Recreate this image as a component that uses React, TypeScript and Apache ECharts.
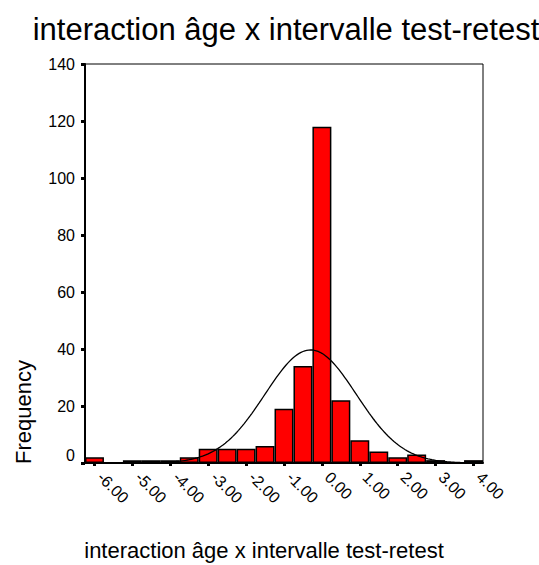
import React, { useEffect, useRef } from "react";
import * as echarts from "echarts";

const TITLE = "interaction âge x intervalle test-retest";
const X_NAME = "interaction âge x intervalle test-retest";
const Y_NAME = "Frequency";
const BIN_CENTERS = [-6, -5.5, -5, -4.5, -4, -3.5, -3, -2.5, -2, -1.5, -1, -0.5, 0, 0.5, 1, 1.5, 2, 2.5, 3, 3.5, 4];
const COUNTS = [2, 0, 1, 1, 1, 2, 5, 5, 5, 6, 19, 34, 118, 22, 8, 4, 2, 3, 1, 0, 1];
const BIN_WIDTH = 0.5;
const Y_MIN = 0;
const Y_MAX = 140;
const Y_STEP = 20;

function normalCurve(): number[][] {
  const n = COUNTS.reduce((a, b) => a + b, 0);
  const mean = BIN_CENTERS.reduce((s, x, i) => s + x * COUNTS[i], 0) / n;
  const varc = BIN_CENTERS.reduce((s, x, i) => s + (x - mean) * (x - mean) * COUNTS[i], 0) / (n - 1);
  const sd = Math.sqrt(varc);
  const lo = BIN_CENTERS[0] - BIN_WIDTH / 2;
  const hi = BIN_CENTERS[BIN_CENTERS.length - 1] + BIN_WIDTH / 2;
  const pts: number[][] = [];
  const steps = 210;
  for (let i = 0; i <= steps; i++) {
    const x = lo + ((hi - lo) * i) / steps;
    const z = (x - mean) / sd;
    pts.push([x, (n * BIN_WIDTH * Math.exp(-0.5 * z * z)) / (sd * Math.sqrt(2 * Math.PI))]);
  }
  return pts;
}

export default function App() {
  const ref = useRef<HTMLDivElement>(null);
  useEffect(() => {
    if (!ref.current) return;
    const chart = echarts.init(ref.current, null, { renderer: "svg" });
    const font = "Arial, 'Liberation Sans', sans-serif";
    const lo = BIN_CENTERS[0] - BIN_WIDTH / 2;
    const hi = BIN_CENTERS[BIN_CENTERS.length - 1] + BIN_WIDTH / 2;
    chart.setOption({
      animation: false,
      backgroundColor: "#ffffff",
      textStyle: { fontFamily: font, color: "#000" },
      grid: {
        left: 85,
        top: 64,
        width: 398,
        height: 399,
        show: true,
        borderColor: "#000",
        borderWidth: 1,
        backgroundColor: "transparent",
      },
      graphic: [
        {
          type: "text",
          x: 286,
          y: 29,
          style: {
            text: TITLE,
            fontSize: 31,
            fontFamily: font,
            fill: "#000",
            textAlign: "center",
            textVerticalAlign: "middle",
          },
        },
        {
          type: "text",
          x: 264,
          y: 550,
          style: {
            text: X_NAME,
            fontSize: 22,
            fontFamily: font,
            fill: "#000",
            textAlign: "center",
            textVerticalAlign: "middle",
          },
        },
        {
          type: "text",
          x: 23,
          y: 412,
          rotation: Math.PI / 2,
          style: {
            text: Y_NAME,
            fontSize: 22,
            fontFamily: font,
            fill: "#000",
            textAlign: "center",
            textVerticalAlign: "middle",
          },
        },
      ],
      xAxis: [
        {
          type: "category",
          data: BIN_CENTERS.map((v) => v.toFixed(2)),
          boundaryGap: true,
          axisLine: { show: true, onZero: false, lineStyle: { color: "#000", width: 2 } },
          axisTick: {
            show: true,
            alignWithLabel: true,
            interval: 1,
            length: 3,
            lineStyle: { color: "#000", width: 3 },
          },
          axisLabel: {
            interval: 1,
            rotate: -45,
            fontSize: 16,
            color: "#000",
            fontFamily: font,
            margin: 6,
            padding: [0, 0, 0, 8],
          },
          splitLine: { show: false },
        },
        {
          type: "value",
          min: lo,
          max: hi,
          show: false,
          axisLine: { onZero: false },
          splitLine: { show: false },
        },
      ],
      yAxis: {
        type: "value",
        min: Y_MIN,
        max: Y_MAX,
        interval: Y_STEP,
        axisLine: { show: true, onZero: false, lineStyle: { color: "#000", width: 2 } },
        axisTick: { show: true, length: 4, lineStyle: { color: "#000", width: 3 } },
        axisLabel: {
          fontSize: 16,
          color: "#000",
          fontFamily: font,
          margin: 10,
          verticalAlignMinLabel: "bottom",
        },
        splitLine: { show: false },
      },
      series: [
        {
          type: "bar",
          xAxisIndex: 0,
          yAxisIndex: 0,
          data: COUNTS,
          barCategoryGap: "0%",
          itemStyle: { color: "#ff0000", borderColor: "#000", borderWidth: 1.5 },
          z: 2,
        },
        {
          type: "line",
          xAxisIndex: 1,
          yAxisIndex: 0,
          data: normalCurve(),
          showSymbol: false,
          symbol: "none",
          lineStyle: { color: "#000", width: 1.3 },
          z: 3,
        },
      ],
    });
    return () => chart.dispose();
  }, []);
  return (
    <div
      ref={ref}
      style={{ position: "absolute", left: 0, top: 0, width: 539, height: 565, background: "#fff" }}
    />
  );
}
